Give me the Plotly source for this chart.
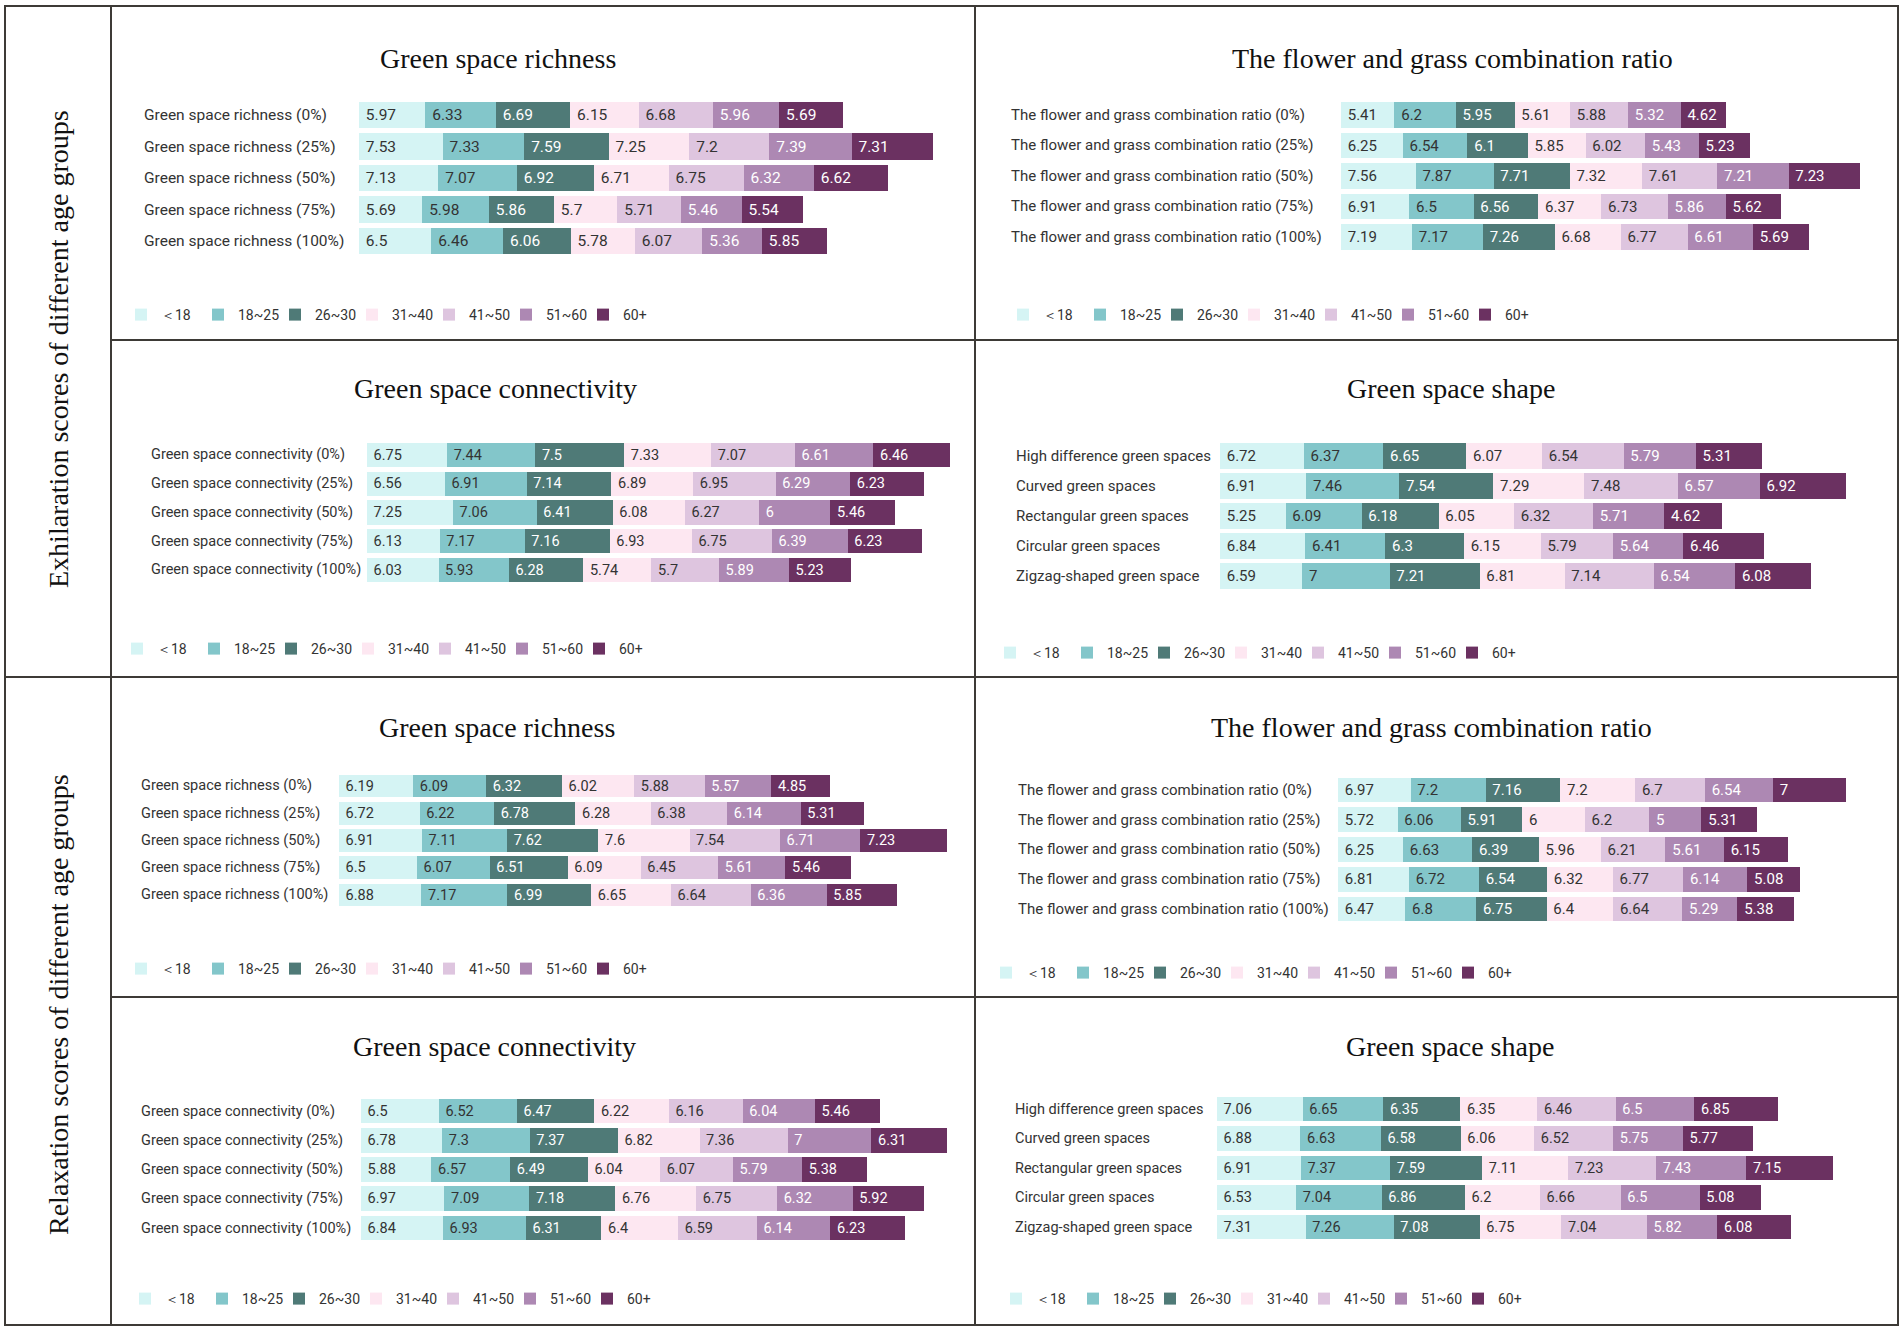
import plotly.graph_objects as go

W, H = 1902, 1330

# age groups and their colours
age_groups = ["＜18", "18~25", "26~30", "31~40", "41~50", "51~60", "60+"]
age_colors = ["#d5f4f4", "#83c6ca", "#4f7a77", "#fde7f1", "#dec5df", "#ad88b3", "#6b3161"]
label_colors = ["#333333", "#333333", "#ffffff", "#333333", "#333333", "#ffffff", "#ffffff"]

richness_levels = ["Green space richness (0%)", "Green space richness (25%)", "Green space richness (50%)",
                   "Green space richness (75%)", "Green space richness (100%)"]
flower_levels = ["The flower and grass combination ratio (0%)", "The flower and grass combination ratio (25%)",
                 "The flower and grass combination ratio (50%)", "The flower and grass combination ratio (75%)",
                 "The flower and grass combination ratio (100%)"]
connectivity_levels = ["Green space connectivity (0%)", "Green space connectivity (25%)",
                       "Green space connectivity (50%)", "Green space connectivity (75%)",
                       "Green space connectivity (100%)"]
shape_types = ["High difference green spaces", "Curved green spaces", "Rectangular green spaces",
               "Circular green spaces", "Zigzag-shaped green space"]

# one row per level, one column per age group
exh_richness = [[5.97, 6.33, 6.69, 6.15, 6.68, 5.96, 5.69],
                [7.53, 7.33, 7.59, 7.25, 7.2, 7.39, 7.31],
                [7.13, 7.07, 6.92, 6.71, 6.75, 6.32, 6.62],
                [5.69, 5.98, 5.86, 5.7, 5.71, 5.46, 5.54],
                [6.5, 6.46, 6.06, 5.78, 6.07, 5.36, 5.85]]
exh_flower = [[5.41, 6.2, 5.95, 5.61, 5.88, 5.32, 4.62],
              [6.25, 6.54, 6.1, 5.85, 6.02, 5.43, 5.23],
              [7.56, 7.87, 7.71, 7.32, 7.61, 7.21, 7.23],
              [6.91, 6.5, 6.56, 6.37, 6.73, 5.86, 5.62],
              [7.19, 7.17, 7.26, 6.68, 6.77, 6.61, 5.69]]
exh_connectivity = [[6.75, 7.44, 7.5, 7.33, 7.07, 6.61, 6.46],
                    [6.56, 6.91, 7.14, 6.89, 6.95, 6.29, 6.23],
                    [7.25, 7.06, 6.41, 6.08, 6.27, 6, 5.46],
                    [6.13, 7.17, 7.16, 6.93, 6.75, 6.39, 6.23],
                    [6.03, 5.93, 6.28, 5.74, 5.7, 5.89, 5.23]]
exh_shape = [[6.72, 6.37, 6.65, 6.07, 6.54, 5.79, 5.31],
             [6.91, 7.46, 7.54, 7.29, 7.48, 6.57, 6.92],
             [5.25, 6.09, 6.18, 6.05, 6.32, 5.71, 4.62],
             [6.84, 6.41, 6.3, 6.15, 5.79, 5.64, 6.46],
             [6.59, 7, 7.21, 6.81, 7.14, 6.54, 6.08]]
rel_richness = [[6.19, 6.09, 6.32, 6.02, 5.88, 5.57, 4.85],
                [6.72, 6.22, 6.78, 6.28, 6.38, 6.14, 5.31],
                [6.91, 7.11, 7.62, 7.6, 7.54, 6.71, 7.23],
                [6.5, 6.07, 6.51, 6.09, 6.45, 5.61, 5.46],
                [6.88, 7.17, 6.99, 6.65, 6.64, 6.36, 5.85]]
rel_flower = [[6.97, 7.2, 7.16, 7.2, 6.7, 6.54, 7],
              [5.72, 6.06, 5.91, 6, 6.2, 5, 5.31],
              [6.25, 6.63, 6.39, 5.96, 6.21, 5.61, 6.15],
              [6.81, 6.72, 6.54, 6.32, 6.77, 6.14, 5.08],
              [6.47, 6.8, 6.75, 6.4, 6.64, 5.29, 5.38]]
rel_connectivity = [[6.5, 6.52, 6.47, 6.22, 6.16, 6.04, 5.46],
                    [6.78, 7.3, 7.37, 6.82, 7.36, 7, 6.31],
                    [5.88, 6.57, 6.49, 6.04, 6.07, 5.79, 5.38],
                    [6.97, 7.09, 7.18, 6.76, 6.75, 6.32, 5.92],
                    [6.84, 6.93, 6.31, 6.4, 6.59, 6.14, 6.23]]
rel_shape = [[7.06, 6.65, 6.35, 6.35, 6.46, 6.5, 6.85],
             [6.88, 6.63, 6.58, 6.06, 6.52, 5.75, 5.77],
             [6.91, 7.37, 7.59, 7.11, 7.23, 7.43, 7.15],
             [6.53, 7.04, 6.86, 6.2, 6.66, 6.5, 5.08],
             [7.31, 7.26, 7.08, 6.75, 7.04, 5.82, 6.08]]

row_titles = ["Exhilaration scores of different age groups", "Relaxation scores of different age groups"]


def px(v):
    return v / W


def py(v):
    return 1 - v / H


# placement of each panel in pixels:
# title centre, label left edge, bar start/end of the longest row, first/last row centre, legend position
panels = [
    dict(title="Green space richness", cats=richness_levels, vals=exh_richness, fs=15.5,
         title_xy=(498, 58), label_x=142, bars=(359, 933), rows=(115, 241), legend_xy=(121, 315)),
    dict(title="The flower and grass combination ratio", cats=flower_levels, vals=exh_flower, fs=15,
         title_xy=(1452, 58), label_x=1009, bars=(1341, 1860), rows=(115, 237), legend_xy=(1003, 315)),
    dict(title="Green space connectivity", cats=connectivity_levels, vals=exh_connectivity, fs=14.5,
         title_xy=(495, 388), label_x=149, bars=(367, 950), rows=(455, 570), legend_xy=(117, 649)),
    dict(title="Green space shape", cats=shape_types, vals=exh_shape, fs=15,
         title_xy=(1451, 388), label_x=1014, bars=(1220, 1846), rows=(456, 576), legend_xy=(990, 653)),
    dict(title="Green space richness", cats=richness_levels, vals=rel_richness, fs=14.5,
         title_xy=(497, 727), label_x=139, bars=(339, 947), rows=(786, 895), legend_xy=(121, 969)),
    dict(title="The flower and grass combination ratio", cats=flower_levels, vals=rel_flower, fs=15,
         title_xy=(1431, 727), label_x=1016, bars=(1338, 1846), rows=(790, 909), legend_xy=(986, 973)),
    dict(title="Green space connectivity", cats=connectivity_levels, vals=rel_connectivity, fs=14.5,
         title_xy=(494, 1046), label_x=139, bars=(361, 947), rows=(1111, 1228), legend_xy=(125, 1299)),
    dict(title="Green space shape", cats=shape_types, vals=rel_shape, fs=14.5,
         title_xy=(1450, 1046), label_x=1013, bars=(1217, 1833), rows=(1109, 1227), legend_xy=(996, 1299)),
]

fig = go.Figure()
layout_extra = {}
annotations = []

for n, panel in enumerate(panels, start=1):
    suffix = '' if n == 1 else str(n)
    legend_name = 'legend' + suffix
    cats = panel['cats']
    vals = panel['vals']
    fs = panel['fs']
    row_sums = [sum(r) for r in vals]

    for j, group in enumerate(age_groups):
        xs = [r[j] for r in vals]
        fig.add_trace(go.Bar(orientation='h', x=xs, y=cats, name=group,
                             xaxis='x' + suffix, yaxis='y' + suffix, legend=legend_name,
                             marker=dict(color=age_colors[j], line=dict(width=0)),
                             text=['\u00a0' + '{:g}'.format(v) for v in xs],
                             textposition='inside', insidetextanchor='start', constraintext='none',
                             textfont=dict(family='Roboto', size=fs, color=label_colors[j]),
                             hovertemplate='%{y}<br>' + group + ': %{x}<extra></extra>'))

    r0, r1 = panel['rows']
    pitch = (r1 - r0) / (len(cats) - 1)
    layout_extra['xaxis' + suffix] = dict(domain=[px(panel['bars'][0]), px(panel['bars'][1])],
                                         range=[0, max(row_sums)], visible=False, anchor='y' + suffix,
                                         fixedrange=True)
    layout_extra['yaxis' + suffix] = dict(domain=[py(r1 + pitch / 2), py(r0 - pitch / 2)],
                                         type='category', categoryorder='array', categoryarray=cats,
                                         autorange='reversed', visible=False, anchor='x' + suffix)
    layout_extra[legend_name] = dict(orientation='h', x=px(panel['legend_xy'][0]), y=py(panel['legend_xy'][1]),
                                     xanchor='left', yanchor='middle', traceorder='normal',
                                     entrywidth=32, entrywidthmode='pixels',
                                     bgcolor='rgba(0,0,0,0)', font=dict(family='Roboto', size=14, color='#333333'),
                                     itemclick=False, itemdoubleclick=False)

    annotations.append(dict(text=panel['title'], x=px(panel['title_xy'][0]), y=py(panel['title_xy'][1]),
                            xref='paper', yref='paper', showarrow=False, xanchor='center', yanchor='middle',
                            font=dict(family='Liberation Serif', size=28, color='#111111')))
    for c in cats:
        annotations.append(dict(text=c, x=px(panel['label_x']), y=c, xref='paper', yref='y' + suffix,
                                showarrow=False, xanchor='left', yanchor='middle',
                                font=dict(family='Roboto', size=fs, color='#333333')))

for title, yc in zip(row_titles, [349, 1005]):
    annotations.append(dict(text=title, x=px(58), y=py(yc), xref='paper', yref='paper', textangle=-90,
                            xanchor='center', yanchor='middle', showarrow=False,
                            font=dict(family='Liberation Serif', size=28, color='#111111')))

line = dict(color='#3d3a36', width=2)
shapes = [
    dict(type='rect', xref='paper', yref='paper', x0=px(5), x1=px(1898), y0=py(6), y1=py(1325), line=line),
    dict(type='line', xref='paper', yref='paper', x0=px(111), x1=px(111), y0=py(6), y1=py(1325), line=line),
    dict(type='line', xref='paper', yref='paper', x0=px(975), x1=px(975), y0=py(6), y1=py(1325), line=line),
    dict(type='line', xref='paper', yref='paper', x0=px(111), x1=px(1898), y0=py(340), y1=py(340), line=line),
    dict(type='line', xref='paper', yref='paper', x0=px(5), x1=px(1898), y0=py(677), y1=py(677), line=line),
    dict(type='line', xref='paper', yref='paper', x0=px(111), x1=px(1898), y0=py(997), y1=py(997), line=line),
]

fig.update_layout(width=W, height=H, margin=dict(l=0, r=0, t=0, b=0),
                  paper_bgcolor='white', plot_bgcolor='white',
                  barmode='stack', bargap=0.16,
                  font=dict(family='Roboto', color='#333333'),
                  annotations=annotations, shapes=shapes, **layout_extra)

fig.write_html("out.html", config={'displayModeBar': False},
               post_script="document.body.style.margin='0';")
